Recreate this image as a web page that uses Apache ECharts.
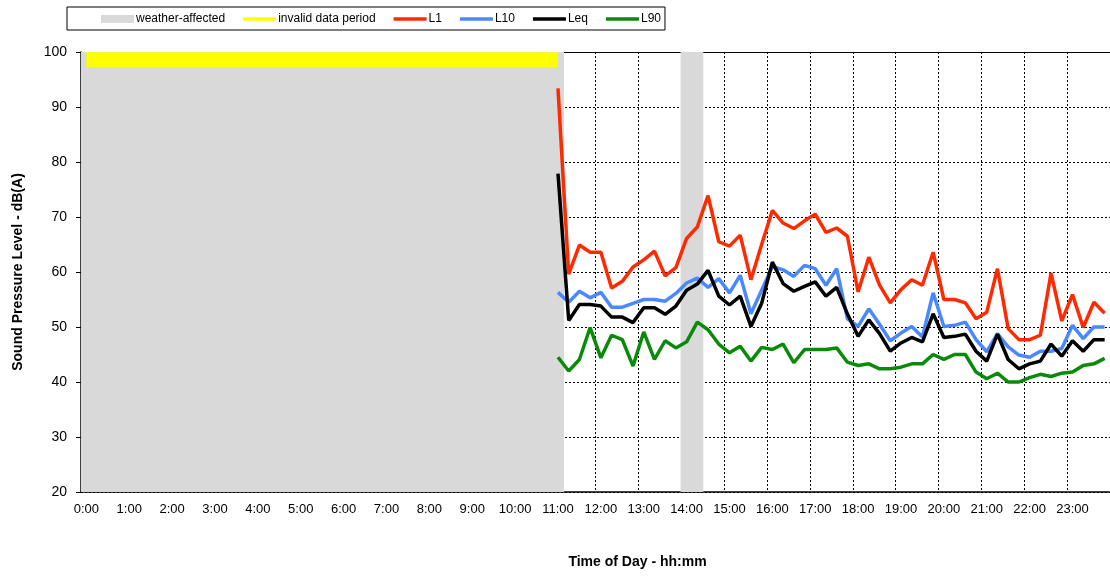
<!DOCTYPE html>
<html>
<head>
<meta charset="utf-8">
<title>Sound Pressure Level</title>
<script src="https://cdn.jsdelivr.net/npm/echarts@6/dist/echarts.min.js"></script>
<style>
    html, body { margin: 0; padding: 0; background: #fff; }
    #main { width: 1110px; height: 577px; }
</style>
</head>
<body>
<div id="main"></div>
<script>
// 15-minute slots over the day, only the full hours get a label
var times = [];
for (var h = 0; h < 24; h++) {
    for (var m = 0; m < 60; m += 15) {
        times.push(h + ':' + (m === 0 ? '00' : m));
    }
}

// measurements start at 11:00, one value per 15 minutes
var firstSlot = '11:00';

var l1 = [93.4, 59.6, 64.9, 63.6, 63.6, 57.1, 58.3, 60.9, 62.2, 63.8, 59.3, 60.8,
    66.1, 68.2, 73.9, 65.5, 64.7, 66.7, 58.6, 65.0, 71.2, 68.9, 67.9, 69.3,
    70.5, 67.2, 68.0, 66.5, 56.4, 62.7, 57.6, 54.4, 56.8, 58.6, 57.6, 63.6,
    55.0, 55.0, 54.4, 51.5, 52.7, 60.6, 49.7, 47.7, 47.7, 48.5, 59.8, 51.1,
    55.9, 49.9, 54.5, 52.5];

var l10 = [56.3, 54.5, 56.5, 55.3, 56.3, 53.6, 53.6, 54.3, 55.0, 55.0, 54.7, 56.1,
    58.0, 58.9, 57.2, 58.8, 56.2, 59.4, 52.4, 56.7, 61.0, 60.4, 59.2, 61.2,
    60.6, 57.6, 60.6, 51.5, 50.1, 53.3, 50.5, 47.5, 48.9, 50.1, 48.2, 56.2,
    50.1, 50.3, 50.9, 47.7, 45.5, 48.8, 46.4, 44.9, 44.5, 45.6, 45.6, 46.1,
    50.3, 47.9, 50.0, 50.0];

var leq = [77.9, 51.2, 54.1, 54.1, 53.8, 51.8, 51.8, 50.8, 53.5, 53.5, 52.3, 53.8,
    56.7, 57.8, 60.3, 55.6, 54.0, 55.6, 50.1, 54.3, 61.8, 57.9, 56.5, 57.4,
    58.2, 55.6, 57.2, 52.4, 48.3, 51.3, 48.8, 45.6, 47.1, 48.1, 47.3, 52.4,
    48.1, 48.3, 48.7, 45.6, 43.8, 48.7, 44.1, 42.4, 43.3, 43.8, 46.9, 44.7,
    47.5, 45.6, 47.7, 47.7];

var l90 = [44.5, 42.0, 44.1, 49.9, 44.4, 48.5, 47.7, 42.9, 49.1, 44.1, 47.5, 46.2,
    47.3, 50.9, 49.5, 46.9, 45.3, 46.5, 43.8, 46.3, 45.9, 46.9, 43.5, 45.9,
    45.9, 45.9, 46.2, 43.6, 43.0, 43.3, 42.4, 42.4, 42.7, 43.3, 43.3, 45.0,
    44.1, 45.0, 45.0, 41.8, 40.6, 41.6, 40.0, 40.0, 40.8, 41.4, 41.0, 41.6,
    41.8, 43.0, 43.3, 44.3];

// flagged periods (first and last 15-min slot, inclusive)
var weatherPeriods = [['0:00', '11:00'], ['14:00', '14:15']];
var weatherLevel = 100;
var invalidPeriod = ['0:00', '11:00'];
var invalidLevel = 98.6;

var yTicks = [20, 30, 40, 50, 60, 70, 80, 90, 100];

//把从firstSlot开始的测量值铺到整天的96个时段上
function spreadOverDay(values) {
    var start = times.indexOf(firstSlot);
    return times.map(function (t, i) {
        var k = i - start;
        return (k >= 0 && k < values.length) ? values[k] : null;
    });
}

function periodData(periods, level) {
    return times.map(function (t, i) {
        for (var p = 0; p < periods.length; p++) {
            if (i >= times.indexOf(periods[p][0]) && i <= times.indexOf(periods[p][1])) {
                return level;
            }
        }
        return null;
    });
}

var fontFamily = '"Liberation Sans", Arial, sans-serif';
// thin bar used as legend icon for the lines
var lineIcon = 'path://M0,0h33v3.5h-33z';

var myChart = echarts.init(document.getElementById('main'));

var option = {
    animation: false,
    textStyle: { fontFamily: fontFamily, color: '#000' },
    legend: {
        left: 67,
        top: 7,
        padding: [6, 4, 5, 34],
        itemGap: 18,
        itemWidth: 33,
        itemHeight: 8,
        borderColor: '#000',
        borderWidth: 1,
        textStyle: { fontSize: 12, fontFamily: fontFamily, color: '#000', padding: [0, 0, 0, -3] },
        data: [
            { name: 'weather-affected', icon: 'rect' },
            { name: 'invalid data period', icon: lineIcon },
            { name: 'L1', icon: lineIcon },
            { name: 'L10', icon: lineIcon },
            { name: 'Leq', icon: lineIcon },
            { name: 'L90', icon: lineIcon }
        ]
    },
    grid: {
        left: 81,
        right: 0,
        top: 52,
        bottom: 85
    },
    xAxis: [
        {
            type: 'category',
            data: times,
            boundaryGap: true,
            name: 'Time of Day - hh:mm',
            nameLocation: 'middle',
            nameGap: 63,
            nameTextStyle: { fontSize: 14, fontWeight: 'bold', padding: [0, 0, 0, 84] },
            axisLine: { lineStyle: { color: '#000', width: 1.5 } },
            axisTick: { interval: 3, length: 5, lineStyle: { color: '#000' } },
            axisLabel: { interval: 3, margin: 11, fontSize: 13, color: '#000' },
            splitLine: {
                show: true,
                interval: 3,
                lineStyle: { color: '#000', type: [2, 2], width: 1 }
            }
        },
        {
            // top edge of the plot area only
            type: 'category',
            data: times,
            position: 'top',
            axisLine: { lineStyle: { color: '#000', width: 1 } },
            axisTick: { show: false },
            axisLabel: { show: false },
            splitLine: { show: false }
        }
    ],
    yAxis: {
        type: 'value',
        min: yTicks[0],
        max: yTicks[yTicks.length - 1],
        interval: 10,
        name: 'Sound Pressure Level - dB(A)',
        nameLocation: 'middle',
        nameGap: 56,
        nameTextStyle: { fontSize: 14, fontWeight: 'bold' },
        axisLine: { show: true, lineStyle: { color: '#000', width: 1.5 } },
        axisTick: { show: true, length: 5, lineStyle: { color: '#000' } },
        axisLabel: { margin: 14, fontSize: 14, color: '#000' },
        splitLine: { lineStyle: { color: '#000', type: [2, 2], width: 1 } }
    },
    series: [
        {
            name: 'weather-affected',
            type: 'bar',
            data: periodData(weatherPeriods, weatherLevel),
            barWidth: 12,
            barCategoryGap: 0,
            itemStyle: { color: '#d9d9d9' },
            z: 1
        },
        {
            name: 'invalid data period',
            type: 'line',
            data: periodData([invalidPeriod], invalidLevel),
            symbol: 'none',
            lineStyle: { color: '#ffff00', width: 15, cap: 'butt' },
            itemStyle: { color: '#ffff00' },
            z: 2
        },
        {
            name: 'L1',
            type: 'line',
            data: spreadOverDay(l1),
            symbol: 'none',
            lineStyle: { color: '#ff2a00', width: 3.5 },
            itemStyle: { color: '#ff2a00' }
        },
        {
            name: 'L10',
            type: 'line',
            data: spreadOverDay(l10),
            symbol: 'none',
            lineStyle: { color: '#4a88ff', width: 3.5 },
            itemStyle: { color: '#4a88ff' }
        },
        {
            name: 'Leq',
            type: 'line',
            data: spreadOverDay(leq),
            symbol: 'none',
            lineStyle: { color: '#000', width: 3.5 },
            itemStyle: { color: '#000' }
        },
        {
            name: 'L90',
            type: 'line',
            data: spreadOverDay(l90),
            symbol: 'none',
            lineStyle: { color: '#0a8a0a', width: 3.5 },
            itemStyle: { color: '#0a8a0a' }
        }
    ]
};

myChart.setOption(option);
</script>
</body>
</html>
